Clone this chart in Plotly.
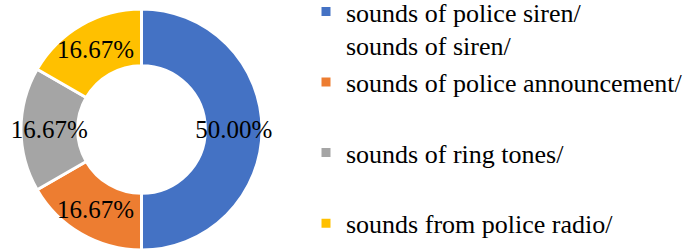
import plotly.graph_objects as go

labels = [
    "sounds of police siren/<br>sounds of siren/",
    "sounds of police announcement/<br> ",
    "sounds of ring tones/<br> ",
    "sounds from police radio/",
]
values = [3, 1, 1, 1]
colors = ["#4472C4", "#ED7D31", "#A5A5A5", "#FFC000"]

SERIF = "Liberation Serif"

fig = go.Figure(go.Pie(
    labels=labels,
    values=values,
    hole=0.53,
    sort=False,
    direction="clockwise",
    rotation=0,
    marker=dict(colors=colors, line=dict(color="white", width=3)),
    texttemplate="%{percent:.2%}",
    textposition="inside",
    insidetextorientation="horizontal",
    textfont=dict(family=SERIF, size=25, color="black"),
    domain=dict(x=[21/694, 262/694], y=[0.0, 1-9/250]),
))
fig.update_layout(
    width=694, height=250,
    margin=dict(l=0, r=0, t=0, b=0, autoexpand=False),
    paper_bgcolor="white",
    font=dict(family=SERIF, size=25, color="black"),
    uniformtext=dict(minsize=25, mode="show"),
    legend=dict(x=306/694, xanchor="left", y=1.048, yanchor="top",
                valign="top", maxheight=400,
                font=dict(family=SERIF, size=26, color="black"),
                bgcolor="rgba(0,0,0,0)"),
)
fig.write_html("out.html", post_script="document.body.style.margin='0';",
               config={"displayModeBar": False})
